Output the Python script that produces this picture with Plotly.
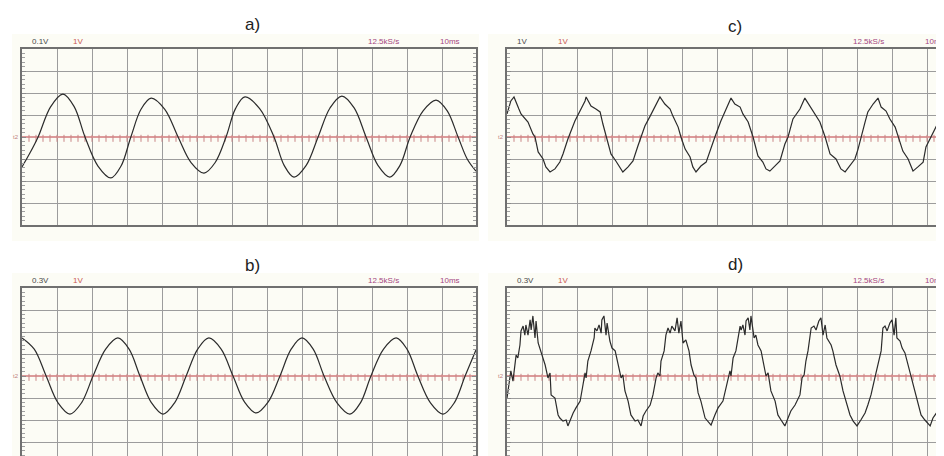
import numpy as np
import plotly.graph_objects as go

W, H = 944, 456

# ---------------- data (time in divisions, amplitude in divisions) ----------------
# a) pure sine, 0.1 V/div
a_t = [0.0, 0.23, 0.46, 0.82, 1.17, 1.49, 1.8, 2.17, 2.54, 2.83, 3.11, 3.4, 3.69, 4.08,
       4.46, 4.83, 5.2, 5.52, 5.83, 6.1, 6.37, 6.79, 7.2, 7.49, 7.77, 8.12, 8.46, 8.8,
       9.14, 9.49, 9.83, 10.17, 10.51, 10.8, 11.09, 11.46, 11.83, 12.15, 12.46, 12.72, 12.97]
a_v = [-1.36, -0.72, 0.0, 1.38, 1.95, 1.38, 0.0, -1.32, -1.86, -1.32, 0.0, 1.26, 1.77, 1.26,
       0.0, -1.16, -1.64, -1.16, 0.0, 1.29, 1.82, 1.29, 0.0, -1.29, -1.82, -1.29, 0.0, 1.32,
       1.86, 1.32, 0.0, -1.29, -1.82, -1.29, 0.0, 1.19, 1.68, 1.19, 0.0, -1.0, -1.55]

# b) pure sine, 0.3 V/div
b_t = [0.0, 0.35, 0.69, 1.03, 1.37, 1.7, 2.03, 2.39, 2.74, 3.06, 3.37, 3.7, 4.03, 4.36,
       4.69, 5.02, 5.34, 5.69, 6.03, 6.36, 6.69, 7.03, 7.37, 7.69, 8.0, 8.32, 8.63, 9.0,
       9.37, 9.67, 9.97, 10.33, 10.69, 11.0, 11.31, 11.67, 12.03, 12.35, 12.66, 12.97]
b_v = [1.73, 1.22, 0.0, -1.22, -1.73, -1.22, 0.0, 1.22, 1.73, 1.22, 0.0, -1.22, -1.73, -1.22,
       0.0, 1.22, 1.73, 1.22, 0.0, -1.19, -1.68, -1.19, 0.0, 1.22, 1.73, 1.22, 0.0, -1.22,
       -1.73, -1.22, 0.0, 1.22, 1.73, 1.22, 0.0, -1.22, -1.73, -1.22, 0.0, 1.18]

# c) distorted signal, 1 V/div
c_t = [0.0, 0.06, 0.11, 0.2, 0.29, 0.34, 0.4, 0.51, 0.6, 0.74, 0.8, 0.89, 1.03, 1.11,
       1.23, 1.37, 1.51, 1.6, 1.74, 1.94, 2.09, 2.23, 2.26, 2.4, 2.54, 2.66, 2.74, 2.83,
       2.97, 3.11, 3.23, 3.31, 3.46, 3.6, 3.74, 3.94, 4.09, 4.23, 4.37, 4.51, 4.66, 4.74,
       4.89, 4.97, 5.09, 5.23, 5.31, 5.4, 5.54, 5.69, 5.83, 5.94, 6.11, 6.26, 6.4, 6.51,
       6.66, 6.74, 6.89, 7.03, 7.17, 7.31, 7.4, 7.51, 7.66, 7.8, 7.94, 8.03, 8.17, 8.37,
       8.51, 8.66, 8.8, 8.94, 9.09, 9.23, 9.4, 9.54, 9.66, 9.8, 9.94, 10.03, 10.11, 10.23,
       10.31, 10.46, 10.6, 10.69, 10.83, 10.94, 11.09, 11.17, 11.31, 11.46, 11.6, 11.74,
       11.89, 11.97, 12.11, 12.26, 12.4, 12.54, 12.69]
c_v = [1.05, 1.41, 1.64, 1.82, 1.41, 1.27, 1.05, 0.82, 0.68, 0.14, 0.0, -0.68, -1.0, -1.36,
       -1.59, -1.45, -1.14, -0.77, -0.09, 0.73, 1.18, 1.64, 1.82, 1.41, 1.27, 1.14, 0.59, 0.05,
       -0.77, -1.09, -1.36, -1.59, -1.36, -1.09, -0.41, 0.5, 0.95, 1.41, 1.82, 1.5, 1.27, 0.95,
       0.45, 0.0, -0.55, -0.91, -1.36, -1.59, -1.32, -1.14, -0.55, 0.0, 0.73, 1.27, 1.77, 1.5,
       1.36, 1.05, 0.68, 0.0, -0.86, -1.14, -1.45, -1.55, -1.32, -1.09, -0.32, 0.0, 0.82, 1.27,
       1.77, 1.41, 1.05, 0.68, 0.0, -0.77, -1.0, -1.45, -1.59, -1.32, -1.0, -0.55, 0.0, 0.68,
       1.14, 1.5, 1.77, 1.36, 1.18, 0.82, 0.45, 0.05, -0.64, -1.0, -1.55, -1.36,
       -1.14, -0.45, 0.0, 0.45, 0.91, 1.5, 1.73]

# d) strongly distorted signal, 0.3 V/div
d_t = [0.0, 0.09, 0.11, 0.17, 0.23, 0.26, 0.31, 0.37, 0.4, 0.46, 0.51, 0.54, 0.6, 0.66,
       0.69, 0.74, 0.8, 0.83, 0.89, 0.97, 1.09, 1.17, 1.23, 1.26, 1.37, 1.46, 1.51, 1.6,
       1.69, 1.74, 1.83, 1.89, 1.97, 2.09, 2.17, 2.23, 2.26, 2.31, 2.4, 2.49, 2.51, 2.57,
       2.63, 2.69, 2.71, 2.77, 2.83, 2.86, 2.94, 3.0, 3.09, 3.17, 3.26, 3.31, 3.37, 3.46,
       3.54, 3.66, 3.74, 3.83, 3.89, 3.97, 4.09, 4.17, 4.26, 4.31, 4.37, 4.4, 4.49, 4.54,
       4.6, 4.66, 4.71, 4.8, 4.86, 4.91, 4.97, 5.03, 5.11, 5.2, 5.26, 5.34, 5.4, 5.46,
       5.54, 5.66, 5.74, 5.83, 5.94, 6.03, 6.17, 6.26, 6.37, 6.4, 6.46, 6.54, 6.66, 6.69,
       6.74, 6.8, 6.83, 6.89, 6.94, 6.97, 7.06, 7.11, 7.17, 7.26, 7.34, 7.4, 7.46, 7.54,
       7.66, 7.74, 7.83, 7.94, 8.03, 8.11, 8.23, 8.37, 8.43, 8.49, 8.54, 8.6, 8.69, 8.77,
       8.83, 8.91, 8.97, 9.03, 9.09, 9.14, 9.26, 9.31, 9.4, 9.51, 9.6, 9.69, 9.8, 9.89,
       10.0, 10.11, 10.23, 10.31, 10.4, 10.51, 10.54, 10.6, 10.69, 10.74, 10.8, 10.86,
       10.94, 11.0, 11.06, 11.11, 11.14, 11.23, 11.29, 11.37, 11.46, 11.54, 11.66, 11.74,
       11.83, 11.94, 12.09, 12.17, 12.31, 12.4, 12.51, 12.6, 12.66, 12.69]
d_v = [-1.0, 0.05, 0.23, -0.23, 0.5, 0.95, 0.82, 1.41, 2.05, 2.27, 1.86, 2.32, 1.86, 2.55,
       2.09, 2.73, 1.73, 2.5, 1.5, 1.14, 0.5, -0.09, 0.14, -0.86, -1.0, -1.77, -1.91, -2.05,
       -2.0, -2.27, -1.91, -1.68, -1.45, -1.14, -0.41, 0.14, -0.09, 0.68, 1.14, 1.73, 2.18, 2.05,
       2.32, 1.95, 2.55, 2.73, 1.86, 2.41, 1.59, 1.27, 1.14, 0.5, -0.09, 0.05, -0.68, -1.14,
       -1.77, -2.05, -2.0, -2.27, -1.82, -1.59, -1.32, -0.86, -0.09, 0.14, 0.0, 0.68, 1.14, 1.86,
       2.18, 1.95, 2.27, 2.05, 2.64, 1.95, 2.5, 1.5, 1.64, 1.14, 0.5, 0.05, -0.09, -0.77,
       -1.14, -1.91, -2.05, -2.23, -1.77, -1.45, -1.14, -0.55, 0.23, 0.0, 0.82, 1.14, 2.27, 2.09,
       2.32, 1.86, 2.5, 2.64, 2.09, 2.73, 1.73, 1.86, 1.41, 1.14, 0.5, 0.0, 0.14, -0.68,
       -1.14, -1.77, -2.0, -2.27, -1.91, -1.59, -1.32, -0.86, -0.09, 0.05, 0.68, 1.14, 2.18, 2.27,
       2.09, 2.5, 2.64, 1.86, 2.32, 1.73, 1.41, 1.14, 0.5, 0.0, -0.68, -1.14, -1.77, -2.05,
       -2.27, -2.0, -1.68, -1.32, -0.86, -0.09, 0.14, 0.59, 1.14, 2.18, 2.27, 2.05,
       2.41, 2.55, 1.86, 2.64, 1.73, 1.59, 1.27, 1.05, 0.5, 0.0, -0.68, -1.14,
       -1.77, -2.0, -2.27, -1.91, -1.59, -1.32, -0.68, -0.09, 0.23, 0.95]

titles = ["a)", "c)", "b)", "d)"]
ch_scale = ["0.1V", "1V", "0.3V", "0.3V"]
ref_scale = ["1V", "1V", "1V", "1V"]
rate_label = "12.5kS/s"
time_label = "10ms"

# ---------------- layout helpers ----------------
PX_DIV = 35.0
panels = [
    dict(t=a_t, v=a_v, x0=14, x1=468, top=41, smooth=True, tx=245, ty=17, full=True),
    dict(t=c_t, v=c_v, x0=499, x1=944, top=41, smooth=False, tx=727, ty=18, full=False),
    dict(t=b_t, v=b_v, x0=14, x1=468, top=280, smooth=True, tx=245, ty=257, full=True),
    dict(t=d_t, v=d_v, x0=499, x1=944, top=280, smooth=False, tx=727, ty=256, full=False),
]

fig = go.Figure()
shapes = []
annotations = []
layout_axes = {}

GRID = "#9c9c9c"
BORDER = "#707070"
CREAM = "#fcfcf5"
RED = "#dc9a9a"

for (x0, x1, y0, y1) in [(4, 471, 26, 233), (480, 944, 26, 233), (4, 471, 265, 456), (480, 944, 265, 456)]:
    shapes.append(dict(type="rect", xref="paper", yref="paper", x0=x0 / W, x1=x1 / W,
                       y0=1 - y1 / H, y1=1 - y0 / H, fillcolor=CREAM, line=dict(width=0), layer="below"))

for i, p in enumerate(panels):
    n = i + 1
    xa = "x" if n == 1 else f"x{n}"
    ya = "y" if n == 1 else f"y{n}"
    xmax = (p["x1"] - p["x0"]) / PX_DIV
    top = p["top"]
    bot = top + 176
    layout_axes["xaxis" if n == 1 else f"xaxis{n}"] = dict(
        domain=[p["x0"] / W, p["x1"] / W], range=[0, xmax], anchor=ya,
        showgrid=True, gridcolor=GRID, gridwidth=1, dtick=1, tick0=0,
        showticklabels=False, ticks="", zeroline=False,
        showline=True, linecolor=BORDER, linewidth=2, mirror=True)
    layout_axes["yaxis" if n == 1 else f"yaxis{n}"] = dict(
        domain=[1 - bot / H, 1 - top / H], range=[-4, 4], anchor=xa,
        showgrid=True, gridcolor=GRID, gridwidth=1, dtick=1, tick0=0,
        showticklabels=False, zeroline=False,
        ticks="inside", ticklen=4, tickcolor="#8a8a8a", tickwidth=1,
        minor=dict(ticks="inside", ticklen=3, dtick=0.2, tick0=0, tickcolor="#a0a0a0", showgrid=False),
        showline=True, linecolor=BORDER, linewidth=2,
        mirror="ticks" if p["full"] else False)

    fig.add_trace(go.Scatter(x=[0, xmax], y=[0, 0], xaxis=xa, yaxis=ya, mode="lines",
                             line=dict(color=RED, width=2), hoverinfo="skip", showlegend=False))
    tk = np.arange(0.2, xmax, 0.2)
    fig.add_trace(go.Scatter(x=tk, y=np.full(len(tk), -0.06), xaxis=xa, yaxis=ya, mode="markers",
                             marker=dict(symbol="line-ns", size=5, line=dict(color="#c98585", width=1)),
                             hoverinfo="skip", showlegend=False))
    fig.add_trace(go.Scatter(x=p["t"], y=p["v"], xaxis=xa, yaxis=ya, mode="lines",
                             line=dict(color="#2b2b2b", width=1.2,
                                       shape="spline" if p["smooth"] else "linear"),
                             showlegend=False))

    annotations.append(dict(text=titles[i], x=p["tx"] / W, y=1 - p["ty"] / H, xref="paper", yref="paper",
                            showarrow=False, xanchor="center", yanchor="middle",
                            font=dict(family="Liberation Sans, Arial", size=17, color="#222222")))
    ly = 1 - (top - 8) / H
    small = dict(family="Liberation Sans, Arial", size=8)
    annotations.append(dict(text=ch_scale[i], x=(p["x0"] + 8) / W, y=ly, xref="paper", yref="paper",
                            showarrow=False, xanchor="left", yanchor="middle",
                            font=dict(small, color="#4a4a4a")))
    annotations.append(dict(text=ref_scale[i], x=(p["x0"] + 49) / W, y=ly, xref="paper", yref="paper",
                            showarrow=False, xanchor="left", yanchor="middle",
                            font=dict(small, color="#c9584f")))
    annotations.append(dict(text=rate_label, x=(p["x0"] + 344) / W, y=ly, xref="paper", yref="paper",
                            showarrow=False, xanchor="left", yanchor="middle",
                            font=dict(small, color="#a4457e")))
    annotations.append(dict(text=time_label, x=(p["x0"] + 416) / W, y=ly, xref="paper", yref="paper",
                            showarrow=False, xanchor="left", yanchor="middle",
                            font=dict(small, color="#a4457e")))
    annotations.append(dict(text="t2", x=(p["x0"] - 1) / W, y=1 - (top + 88) / H, xref="paper", yref="paper",
                            showarrow=False, xanchor="right", yanchor="middle",
                            font=dict(family="Liberation Sans, Arial", size=6, color="#c08080")))

fig.update_layout(
    width=W, height=H, margin=dict(l=0, r=0, t=0, b=0),
    paper_bgcolor="white", plot_bgcolor=CREAM,
    shapes=shapes, annotations=annotations, showlegend=False,
    **layout_axes,
)

fig.write_html("out.html")
